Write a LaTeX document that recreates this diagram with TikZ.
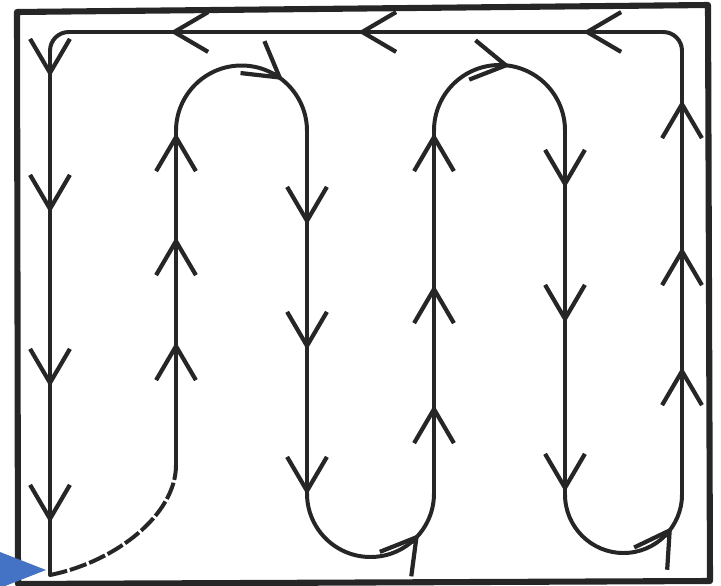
\documentclass[tikz,border=0pt]{standalone}
\usetikzlibrary{arrows.meta}
\definecolor{marker}{RGB}{68,114,196}

\begin{document}
\begin{tikzpicture}[
    x=0.03cm, y=-0.03cm,
    frame/.style={draw=black!85, line width=5.2pt, line join=round},
    route/.style={draw=black!85, line width=3.4pt, line cap=round},
    gap/.style={route, dash pattern=on 15pt off 2.5pt, line cap=butt},
    barb/.style={route, -{Straight Barb[length=29pt, width=34pt, line width=3.6pt]}}
  ]
  \useasboundingbox (0,0) rectangle (721,586);
  % outer frame (slightly skewed scan)
  \draw[frame] (17,12) -- (708,5) -- (710,581) -- (18,584) -- cycle;

  % serpentine
  \coordinate (entry) at (176,465);
  \coordinate (start) at (50,575);
  \draw[route] (entry) -- (176,131) arc (180:360:65.5)
    -- (307,493.5) arc (180:0:63.5)
    -- (434,130.5) arc (180:360:65.5)
    -- (565,494.5) arc (180:0:58.5) coordinate (turn);
  \draw[route, rounded corners=16pt] (turn) -- (682,32) -- (50,32) -- (start);
  \draw[gap] (start) .. controls (115,562) and (176,515) .. (entry);

  % arrowheads on the straight runs
  \foreach \y in {77,213,387,523} \draw[barb] (50,{\y-10}) -- (50,\y);
  \foreach \y in {342,237,133} \draw[barb] (176,{\y+10}) -- (176,\y);
  \foreach \y in {225,350,495} \draw[barb] (307,{\y-10}) -- (307,\y);
  \foreach \y in {405,285,133} \draw[barb] (434,{\y+10}) -- (434,\y);
  \foreach \y in {188,323,492} \draw[barb] (565,{\y-10}) -- (565,\y);
  \foreach \y in {367,247,100} \draw[barb] (682,{\y+10}) -- (682,\y);
  \foreach \x in {583,358,170} \draw[barb] ({\x+10},32) -- (\x,32);
  % arrowheads on the turns
  \draw[barb] (275,74) -- (283,80);
  \draw[barb] (500,64.4) -- (510,66);
  \draw[barb] (413,541.7) -- (419,534);
  \draw[barb] (666.4,535.3) -- (672,527);

  \fill[marker] (0,552) -- (46,570) -- (0,588) -- cycle;
\end{tikzpicture}
\end{document}
